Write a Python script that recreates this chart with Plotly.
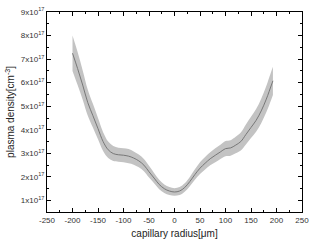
import numpy as np
import plotly.graph_objects as go

# capillary radius [um]
radius = [-200, -190, -180, -170, -160, -150, -140, -130, -120, -110, -100, -90, -80, -70,
          -60, -50, -40, -30, -20, -10, 0, 10, 20, 30, 40, 50, 60, 70, 80, 90, 100,
          110, 120, 130, 140, 150, 160, 170, 180, 190, 193]
# mean plasma density [1e17 cm^-3]
density = [7.25, 6.6, 5.9, 5.15, 4.6, 4.05, 3.5, 3.15, 2.99, 2.94, 2.92, 2.88, 2.8, 2.68,
           2.5, 2.22, 1.95, 1.68, 1.5, 1.4, 1.36, 1.4, 1.55, 1.8, 2.1, 2.37, 2.58, 2.77, 2.92,
           3.06, 3.2, 3.23, 3.35, 3.5, 3.8, 4.1, 4.4, 4.8, 5.3, 5.9, 6.08]
# uncertainty half-width [1e17 cm^-3]
spread = [0.75, 0.7, 0.62, 0.55, 0.5, 0.45, 0.4, 0.35, 0.32, 0.3, 0.3, 0.3, 0.28, 0.27,
          0.26, 0.25, 0.22, 0.2, 0.18, 0.17, 0.16, 0.17, 0.18, 0.2, 0.22, 0.25, 0.27, 0.28, 0.3,
          0.3, 0.32, 0.33, 0.35, 0.38, 0.42, 0.45, 0.48, 0.52, 0.56, 0.6, 0.6]

x_ticks = [-250, -200, -150, -100, -50, 0, 50, 100, 150, 200, 250]
y_tick_mant = [1, 2, 3, 4, 5, 6, 7, 8, 9]

scale = 1e17
y = np.array(density) * scale
s = np.array(spread) * scale

fig = go.Figure()
fig.add_trace(go.Scatter(x=radius, y=y - s, mode="lines", line=dict(width=0, shape="spline"),
                         hoverinfo="skip", showlegend=False))
fig.add_trace(go.Scatter(x=radius, y=y + s, mode="lines", line=dict(width=0, shape="spline"),
                         fill="tonexty", fillcolor="#c3c3c3", hoverinfo="skip", showlegend=False))
fig.add_trace(go.Scatter(x=radius, y=y, mode="lines",
                         line=dict(color="#6e6e6e", width=0.9, shape="spline"), showlegend=False))

font = "Liberation Sans, Arial, sans-serif"
axis_common = dict(showline=True, linecolor="black", linewidth=1, mirror="allticks", ticks="inside",
                   ticklen=4, tickwidth=1, tickcolor="black", showgrid=False, zeroline=False,
                   tickfont=dict(family=font, size=8, color="#333333"))

fig.update_xaxes(range=[-250, 250], tickvals=x_ticks, ticktext=[str(v) for v in x_ticks],
                 minor=dict(ticks="inside", ticklen=2, tickvals=list(range(-225, 250, 50)), tickcolor="black"),
                 title=dict(text="capillary radius[\u03bcm]", font=dict(family=font, size=10, color="#222222"),
                            standoff=6),
                 **axis_common)
fig.update_yaxes(range=[0.51e17, 9e17], tickvals=[m * scale for m in y_tick_mant],
                 ticktext=[f"{m}x10<sup>17</sup>" for m in y_tick_mant],
                 minor=dict(ticks="inside", ticklen=2, tickvals=[(m + 0.5) * scale for m in y_tick_mant[:-1]],
                            tickcolor="black"),
                 title=dict(text="plasma density[cm<sup>-3</sup>]", font=dict(family=font, size=10, color="#222222"),
                            standoff=4),
                 **axis_common)

fig.update_layout(width=315, height=245, margin=dict(l=47, r=13, t=6, b=33),
                  paper_bgcolor="white", plot_bgcolor="white")
fig.write_html("out.html", config={"displayModeBar": False},
               post_script="document.body.style.margin='0';document.body.style.padding='0';")
